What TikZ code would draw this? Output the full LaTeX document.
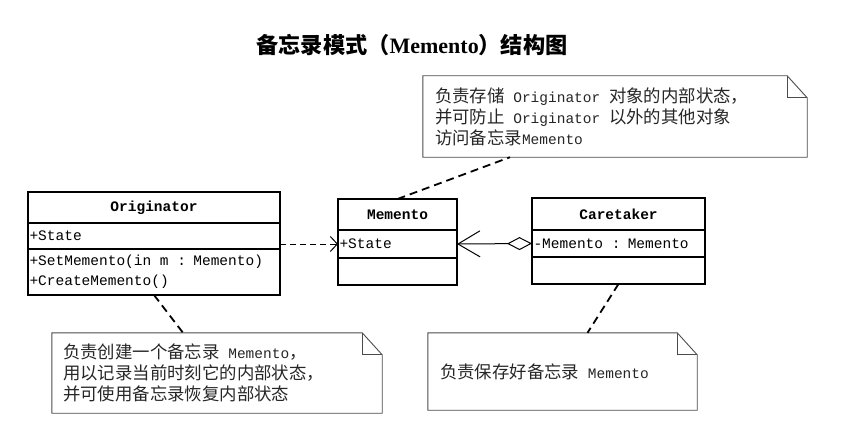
\documentclass[tikz,border=0pt]{standalone}
\usepackage{fontspec}
\setmainfont{Liberation Mono}
\newfontfamily\cjk[Scale=1.2]{Noto Sans CJK SC}
\newfontfamily\titleserif{Liberation Serif}
\usetikzlibrary{positioning,arrows.meta}
% note outline with folded corner
\newcommand{\foldnote}[1]{%
  \draw[line width=.9pt,black!70] (#1.north west) -- ([xshift=-20pt]#1.north east)
    -- ([yshift=-22pt]#1.north east) -- (#1.south east) -- (#1.south west) -- cycle;
  \draw[line width=.9pt,black!70] ([xshift=-20pt]#1.north east) |- ([yshift=-22pt]#1.north east);}
\begin{document}
\begin{tikzpicture}[x=1pt,y=-1pt,
    umltxt/.style={font=\fontsize{14.5pt}{20pt}\selectfont,execute at begin node={\spaceskip=8.7pt\relax}},
    clshead/.style={draw,line width=1.2pt,outer sep=0pt,inner sep=0pt,font=\fontsize{14.5pt}{20pt}\selectfont\bfseries},
    clspart/.style={draw,line width=1.2pt,outer sep=0pt,inner xsep=1.5pt,inner ysep=0pt,align=left,umltxt},
    note/.style={inner xsep=12pt,inner ysep=0pt,align=left,text=black!85,font=\fontsize{14.5pt}{21pt}\selectfont,execute at begin node={\spaceskip=8.7pt\relax}},
    noteline/.style={line width=1.8pt,dash pattern=on 8pt off 5pt},
    dep/.style={line width=1pt,dash pattern=on 6pt off 4pt,-{Straight Barb[length=7pt,width=15pt]}}]
	\useasboundingbox (0,0) rectangle (842,441);
	\node (title) at (412,45) {{\cjk\bfseries\fontsize{18.5pt}{22pt}\selectfont 备忘录模式（}{\titleserif\bfseries\fontsize{22pt}{26pt}\selectfont Memento}{\cjk\bfseries\fontsize{18.5pt}{22pt}\selectfont ）结构图}};
	% Originator
	\node[clshead,minimum width=252pt,minimum height=31pt] (ohead) at (154,207.5) {Originator};
	\node[clspart,text width=249pt,minimum height=26pt,below=0pt of ohead] (oattr) {+State};
	\node[clspart,text width=249pt,minimum height=46pt,below=0pt of oattr] (oops) {+SetMemento(in m : Memento)\\+CreateMemento()};
	% Memento
	\node[clshead,minimum width=119pt,minimum height=31pt] (mhead) at (397.5,214.5) {Memento};
	\node[clspart,text width=116pt,minimum height=28pt,below=0pt of mhead] (mattr) {+State};
	\node[clspart,text width=116pt,minimum height=27pt,below=0pt of mattr] (mops) {};
	% Caretaker
	\node[clshead,minimum width=173pt,minimum height=32pt] (chead) at (618.5,214) {Caretaker};
	\node[clspart,text width=170pt,minimum height=27pt,below=0pt of chead] (cattr) {-Memento : Memento};
	\node[clspart,text width=170pt,minimum height=27pt,below=0pt of cattr] (cops) {};
	% notes
	\node[note,text width=360pt,minimum height=81pt] (tnote) at (615,116.5) {{\cjk 负责存储} Originator {\cjk 对象的内部状态，}\\{\cjk 并可防止} Originator {\cjk 以外的其他对象}\\{\cjk 访问备忘录}Memento};
	\foldnote{tnote}
	\node[note,inner xsep=11pt,text width=308pt,minimum height=80pt] (blnote) at (217,373) {{\cjk 负责创建一个备忘录} Memento{\cjk ，}\\{\cjk 用以记录当前时刻它的内部状态，}\\{\cjk 并可使用备忘录恢复内部状态}};
	\foldnote{blnote}
	\node[note,text width=245pt,minimum height=77pt] (brnote) at (562.5,371.5) {{\cjk 负责保存好备忘录} Memento};
	\foldnote{brnote}
	% connectors
	\draw[dep] (oattr.east |- mattr.west) -- (mattr.west);
	\draw[line width=1pt,{Straight Barb[length=22pt,width=26pt]}-{Diamond[open,length=25pt,width=13pt]}] (mattr.east) -- (cattr.west);
	\draw[noteline] (mhead.north) -- ([xshift=-105pt]tnote.south);
	\draw[noteline] (oops.south) -- ([xshift=-34pt]blnote.north);
	\draw[noteline] (cops.south) -- ([xshift=25pt]brnote.north);
\end{tikzpicture}
\end{document}
